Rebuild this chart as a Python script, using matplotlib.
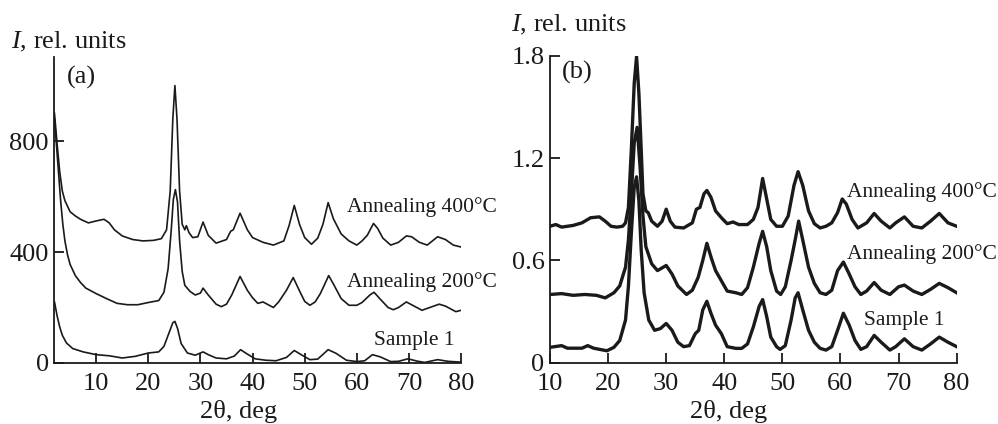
import matplotlib
matplotlib.use('Agg')
import matplotlib.pyplot as plt

plt.rcParams['font.family'] = ['Liberation Serif', 'DejaVu Serif']
plt.rcParams['mathtext.fontset'] = 'custom'
plt.rcParams['mathtext.rm'] = 'Liberation Serif'
plt.rcParams['mathtext.it'] = 'Liberation Serif:italic'

# ---- panel (a) data ----
a_s1_x = [2, 2.5, 3, 3.5, 4.3, 5.5, 7.5, 10, 12.5, 15, 17.5, 20, 22, 23, 24, 24.7, 25.1, 25.6, 26.3,
          27.5, 29, 30.5, 31.5, 33, 35, 36.5, 37.7, 39, 40.5, 42.5, 44.5, 46.5, 48, 49.5, 51, 52.5,
          54.5, 56, 58, 60, 61.5, 63, 64.5, 66.5, 68, 69.8, 71.5, 73, 75.5, 77.5, 80]
a_s1_y = [220, 170, 130, 100, 72, 52, 40, 30, 26, 18, 24, 36, 40, 60, 110, 145, 150, 125, 70,
          36, 28, 40, 30, 18, 15, 25, 48, 32, 15, 10, 8, 20, 45, 28, 12, 14,
          48, 35, 10, 5, 8, 30, 22, 5, 6, 15, 7, 2, 12, 6, 3]

a_200_x = [2, 2.4, 2.8, 3.2, 3.6, 4, 4.5, 5, 6, 7, 8, 10, 12, 14, 16, 18, 20, 22, 23, 23.8, 24.4,
           24.8, 25.2, 25.6, 26, 26.5, 27, 28, 29, 30, 30.5, 31.5, 33, 34, 35, 36, 37.6, 39, 40,
           41, 42, 43, 44, 45, 46.5, 47.8, 49, 50, 51, 52, 53, 54.6, 55.5, 57, 58.5, 60, 61,
           62.5, 63.3, 64.5, 66, 67, 68, 69.5, 71, 72.5, 74, 75.8, 77, 79, 80]
a_200_y = [880, 780, 680, 580, 500, 440, 390, 355, 315, 290, 270, 250, 232, 215, 210, 210, 218, 225, 255, 340, 480,
           590, 625, 580, 440, 330, 280, 258, 245, 252, 270, 245, 212, 203, 212, 245, 312, 262, 235,
           215, 220, 210, 200, 220, 262, 308, 260, 222, 208, 220, 250, 315, 285, 232, 208, 208, 218,
           245, 255, 230, 200, 192, 200, 220, 205, 190, 200, 212, 205, 185, 190]

a_400_x = [2, 2.5, 3, 3.5, 4, 5, 6, 7, 8.5, 10, 11.5, 12.5, 13.5, 15, 17, 19, 21, 22.5, 23.5, 24.2,
           24.7, 25.1, 25.5, 26, 26.5, 27, 27.3, 27.8, 28.5, 29.5, 30.5, 31.5, 33, 35, 35.8, 36.3,
           37.6, 39, 40, 42, 44, 46, 47, 48, 49, 50, 51.3, 52.5, 53.5, 54.5, 55.5, 57, 58.5, 60,
           61, 62, 63.2, 64, 65, 66.5, 68, 69.5, 70.5, 72, 73.5, 75.5, 77, 78.5, 80]
a_400_y = [900, 790, 690, 620, 585, 545, 530, 518, 505, 512, 518, 505, 480, 458, 445, 440, 442, 448, 480, 620,
           880, 1000, 880, 620, 500, 480, 495, 470, 452, 455, 508, 460, 432, 445, 475, 480,
           540, 480, 452, 435, 425, 440, 495, 568, 500, 452, 428, 450, 500, 578, 520, 465, 440, 425,
           440, 460, 503, 485, 450, 425, 435, 458, 455, 435, 425, 455, 445, 425, 418]

# ---- panel (b) data ----
b_s1_x = [10, 11, 12, 13, 14, 15.5, 16.5, 17.5, 19, 19.8, 21, 22, 23, 23.5, 24, 24.5, 24.9, 25.3, 25.7,
          26.2, 27, 28, 29, 30, 31, 32, 33, 34, 35, 35.6, 36.3, 37, 37.7, 38.5, 39.5, 40.5, 42, 43,
          44, 45, 46, 46.6, 47.3, 48, 49, 49.6, 50.5, 51.5, 52.2, 52.7, 53.5, 54.5, 55.5, 56.5,
          57.5, 58.5, 59.5, 60.5, 61.5, 62.5, 63.5, 64.5, 65.8, 67, 68.5, 69.5, 71, 72.5, 74,
          75.5, 77, 78.5, 80]
b_s1_y = [0.09, 0.095, 0.10, 0.085, 0.085, 0.085, 0.10, 0.085, 0.075, 0.07, 0.09, 0.13, 0.25, 0.45, 0.76, 1.03,
          1.09, 0.95, 0.66, 0.41, 0.25, 0.19, 0.20, 0.23, 0.19, 0.12, 0.094, 0.10, 0.17, 0.19, 0.31,
          0.36, 0.29, 0.22, 0.17, 0.094, 0.084, 0.084, 0.11, 0.21, 0.33, 0.37, 0.27, 0.15, 0.094,
          0.078, 0.10, 0.25, 0.38, 0.41, 0.31, 0.19, 0.12, 0.084, 0.074, 0.094, 0.19, 0.29, 0.22,
          0.13, 0.078, 0.094, 0.16, 0.12, 0.074, 0.094, 0.14, 0.094, 0.074, 0.11, 0.15, 0.12, 0.094]

b_200_x = [10, 12, 14, 16, 18, 19.5, 21, 22, 23, 23.5, 24, 24.5, 25, 25.5, 26, 26.5, 27.5, 28.5, 30,
           31, 32, 33.5, 34.5, 35.5, 36.3, 37, 37.8, 38.5, 39.5, 40.5, 42, 43, 44, 45, 46, 46.6,
           47.3, 48, 49, 49.7, 50.5, 51.5, 52.2, 52.8, 53.5, 54.5, 55.5, 56.5, 57.5, 58.5, 59.5,
           60.5, 61.5, 62.5, 63.5, 64.5, 65.8, 67, 68.5, 70, 71, 72.5, 74, 75.5, 77, 78.5, 80]
b_200_y = [0.40, 0.405, 0.395, 0.40, 0.395, 0.38, 0.41, 0.45, 0.56, 0.72, 0.99, 1.29, 1.38, 1.15, 0.86, 0.68,
           0.58, 0.54, 0.57, 0.52, 0.45, 0.40, 0.425, 0.50, 0.60, 0.70, 0.61, 0.54, 0.48, 0.42,
           0.41, 0.40, 0.44, 0.56, 0.70, 0.77, 0.68, 0.54, 0.42, 0.40, 0.445, 0.60, 0.72, 0.83,
           0.72, 0.56, 0.465, 0.41, 0.40, 0.425, 0.54, 0.59, 0.52, 0.445, 0.40, 0.42, 0.47, 0.425,
           0.40, 0.445, 0.455, 0.42, 0.40, 0.43, 0.465, 0.44, 0.41]

b_400_x = [10, 11, 12, 13, 14, 15.5, 17, 18.5, 19.5, 20.5, 21.5, 22.5, 23, 23.5, 24, 24.5, 24.9, 25.3,
           25.7, 26, 26.5, 26.9, 27.5, 28.5, 29.3, 30, 30.7, 31.5, 33, 34.5, 35.2, 35.8, 36.5, 37,
           37.7, 38.5, 39.5, 40.5, 41.5, 42.5, 44, 45, 45.8, 46.6, 47.3, 48, 49, 50, 51, 52, 52.7,
           53.5, 54.5, 55.5, 56.5, 57.5, 58.5, 59.5, 60.3, 61, 62, 63, 64.5, 65.8, 67, 68.5, 69.5,
           71, 72.5, 74, 75.5, 77, 78.5, 80]
b_400_y = [0.80, 0.81, 0.795, 0.80, 0.805, 0.82, 0.85, 0.855, 0.83, 0.80, 0.795, 0.80, 0.82, 0.91, 1.25, 1.64,
           1.795, 1.58, 1.25, 0.99, 0.89, 0.88, 0.83, 0.80, 0.83, 0.90, 0.83, 0.795, 0.79, 0.82,
           0.90, 0.91, 0.99, 1.01, 0.97, 0.89, 0.85, 0.815, 0.825, 0.81, 0.81, 0.84, 0.91, 1.08,
           0.96, 0.84, 0.80, 0.80, 0.86, 1.04, 1.12, 1.04, 0.89, 0.815, 0.79, 0.80, 0.82, 0.88,
           0.96, 0.93, 0.84, 0.79, 0.82, 0.875, 0.83, 0.79, 0.82, 0.855, 0.80, 0.79, 0.83, 0.875,
           0.82, 0.80]

x_ticks = [10, 20, 30, 40, 50, 60, 70, 80]
a_yticks = [0, 400, 800]
b_yticks = [0, 0.6, 1.2, 1.8]
b_yticklabels = ['0', '0.6', '1.2', '1.8']
curve_labels = ['Sample 1', 'Annealing 200°C', 'Annealing 400°C']

ink = '#1a1a1a'

fig = plt.figure(figsize=(9.98, 4.24), dpi=100)
ax_a = fig.add_axes([0.0546, 0.1439, 0.4074, 0.7217])
ax_b = fig.add_axes([0.5511, 0.1446, 0.4075, 0.7240])


def style_axes(ax, label_x):
    for side in ['top', 'right']:
        ax.spines[side].set_visible(False)
    for side in ['left', 'bottom']:
        ax.spines[side].set_linewidth(1.3)
        ax.spines[side].set_color(ink)
    ax.tick_params(direction='in', length=7, width=1.3, colors=ink, labelsize=19)
    ax.tick_params(axis='x', pad=7.5, top=False)
    ax.tick_params(axis='y', pad=4, right=False)
    ax.set_xlabel('2θ, deg', fontsize=19, color=ink, va='center')
    ax.xaxis.set_label_coords(label_x, -0.16)


# panel (a)
for xs, ys in [(a_s1_x, a_s1_y), (a_200_x, a_200_y), (a_400_x, a_400_y)]:
    ax_a.plot(xs, ys, color=ink, lw=1.2)
ax_a.set_xlim(2, 80)
ax_a.set_ylim(0, 1103)
ax_a.set_xticks(x_ticks)
ax_a.set_yticks(a_yticks)
style_axes(ax_a, 0.453)
ax_a.text(63.3, 80, curve_labels[0], fontsize=15.5, va='center', color=ink)
ax_a.text(58.1, 293, curve_labels[1], fontsize=15.5, va='center', color=ink)
ax_a.text(58.1, 562, curve_labels[2], fontsize=15.5, va='center', color=ink)
ax_a.text(4.3, 1031, '(a)', fontsize=19, va='center', color=ink)
fig.text(0.011, 0.901, r'$I$, rel. units', fontsize=19, va='center', color=ink)

# panel (b)
for xs, ys in [(b_s1_x, b_s1_y), (b_200_x, b_200_y), (b_400_x, b_400_y)]:
    ax_b.plot(xs, ys, color=ink, lw=2.4)
ax_b.set_xlim(10, 80)
ax_b.set_ylim(0, 1.8)
ax_b.set_xticks(x_ticks)
ax_b.set_yticks(b_yticks)
ax_b.set_yticklabels(b_yticklabels)
style_axes(ax_b, 0.438)
ax_b.text(64.1, 0.246, curve_labels[0], fontsize=15.5, va='center', color=ink)
ax_b.text(61.1, 0.637, curve_labels[1], fontsize=15.5, va='center', color=ink)
ax_b.text(61.1, 1.003, curve_labels[2], fontsize=15.5, va='center', color=ink)
ax_b.text(12.0, 1.70, '(b)', fontsize=19, va='center', color=ink)
fig.text(0.512, 0.941, r'$I$, rel. units', fontsize=19, va='center', color=ink)

fig.savefig('out.png', dpi=100)
